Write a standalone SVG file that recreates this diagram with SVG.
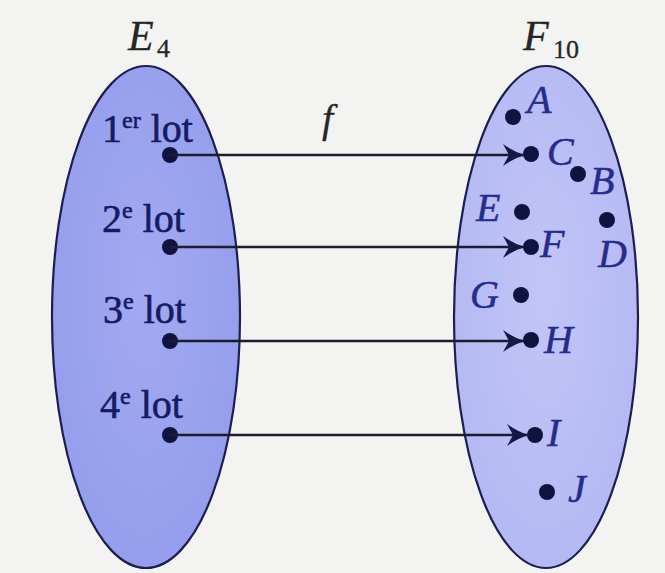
<svg xmlns="http://www.w3.org/2000/svg" width="665" height="573" viewBox="0 0 665 573">
<style>
.set{stroke:#1b1e4e;stroke-width:2.2}
.lbl{font-family:"Liberation Serif","Times New Roman",serif;font-size:40px;fill:#161b62;stroke:#161b62;stroke-width:0.6}
.pt{font-family:"Liberation Serif","Times New Roman",serif;font-size:40px;font-style:italic;fill:#262c8c;stroke:#262c8c;stroke-width:0.5}
.title{font-family:"Liberation Serif","Times New Roman",serif;fill:#262626;stroke:#262626;stroke-width:0.3}
.dot{fill:#10133f}
.conn{stroke:#1c1c30;stroke-width:2.6;fill:none;marker-end:url(#ah)}
</style>
<defs>
<radialGradient id="gl" cx="0.5" cy="0.45" r="0.6">
<stop offset="0" stop-color="#a2aaf1"/>
<stop offset="1" stop-color="#949dec"/>
</radialGradient>
<radialGradient id="gr" cx="0.5" cy="0.45" r="0.6">
<stop offset="0" stop-color="#c1c5f7"/>
<stop offset="1" stop-color="#b3b8f3"/>
</radialGradient>
<marker id="ah" viewBox="0 0 22 24" refX="21" refY="12" markerWidth="22" markerHeight="24" markerUnits="userSpaceOnUse" orient="auto">
<path d="M0,1 Q11,9 22,12 Q11,15 0,23 L6,12 Z" fill="#141845"/>
</marker>
</defs>
<rect x="0" y="0" width="665" height="573" fill="#f3f3f1"/>

<g id="set-E4">
<ellipse class="set" cx="146" cy="317" rx="94" ry="251" fill="url(#gl)"/>
<text class="title" x="128" y="50" font-size="42" font-style="italic">E</text>
<text class="title" x="157" y="57" font-size="26">4</text>
</g>

<g id="set-F10">
<ellipse class="set" cx="546" cy="317" rx="92" ry="251" fill="url(#gr)"/>
<text class="title" x="523" y="50" font-size="42" font-style="italic">F</text>
<text class="title" x="553" y="58" font-size="26">10</text>
</g>

<g id="lot1">
<text class="lbl" x="102" y="142">1<tspan font-size="24" dy="-14">er</tspan><tspan dy="14"> lot</tspan></text>
<circle class="dot" cx="170" cy="155" r="8"/>
</g>
<g id="lot2">
<text class="lbl" x="102" y="232">2<tspan font-size="24" dy="-14">e</tspan><tspan dy="14"> lot</tspan></text>
<circle class="dot" cx="170" cy="247" r="8"/>
</g>
<g id="lot3">
<text class="lbl" x="103" y="323">3<tspan font-size="24" dy="-14">e</tspan><tspan dy="14"> lot</tspan></text>
<circle class="dot" cx="170" cy="341" r="8"/>
</g>
<g id="lot4">
<text class="lbl" x="100" y="418">4<tspan font-size="24" dy="-14">e</tspan><tspan dy="14"> lot</tspan></text>
<circle class="dot" cx="170" cy="435" r="8"/>
</g>

<g id="A"><circle class="dot" cx="513" cy="117" r="8"/><text class="pt" x="527" y="113">A</text></g>
<g id="C"><circle class="dot" cx="531" cy="154" r="8"/><text class="pt" x="547" y="165">C</text></g>
<g id="B"><circle class="dot" cx="578" cy="174" r="8"/><text class="pt" x="590" y="194">B</text></g>
<g id="E"><circle class="dot" cx="522" cy="212" r="8"/><text class="pt" x="476" y="221">E</text></g>
<g id="D"><circle class="dot" cx="607" cy="220" r="8"/><text class="pt" x="598" y="267">D</text></g>
<g id="F"><circle class="dot" cx="531" cy="247" r="8"/><text class="pt" x="540" y="257">F</text></g>
<g id="G"><circle class="dot" cx="521" cy="295" r="8"/><text class="pt" x="470" y="308">G</text></g>
<g id="H"><circle class="dot" cx="531" cy="340" r="8"/><text class="pt" x="544" y="353">H</text></g>
<g id="I"><circle class="dot" cx="535" cy="435" r="8"/><text class="pt" x="547" y="446">I</text></g>
<g id="J"><circle class="dot" cx="547" cy="492" r="8"/><text class="pt" x="568" y="502">J</text></g>

<g id="connectors">
<line class="conn" x1="170" y1="155" x2="524" y2="155"/>
<line class="conn" x1="170" y1="247" x2="524" y2="247"/>
<line class="conn" x1="170" y1="341" x2="524" y2="341"/>
<line class="conn" x1="170" y1="435" x2="528" y2="435"/>
<text class="title" x="322" y="132" font-size="40" font-style="italic">f</text>
</g>
</svg>
